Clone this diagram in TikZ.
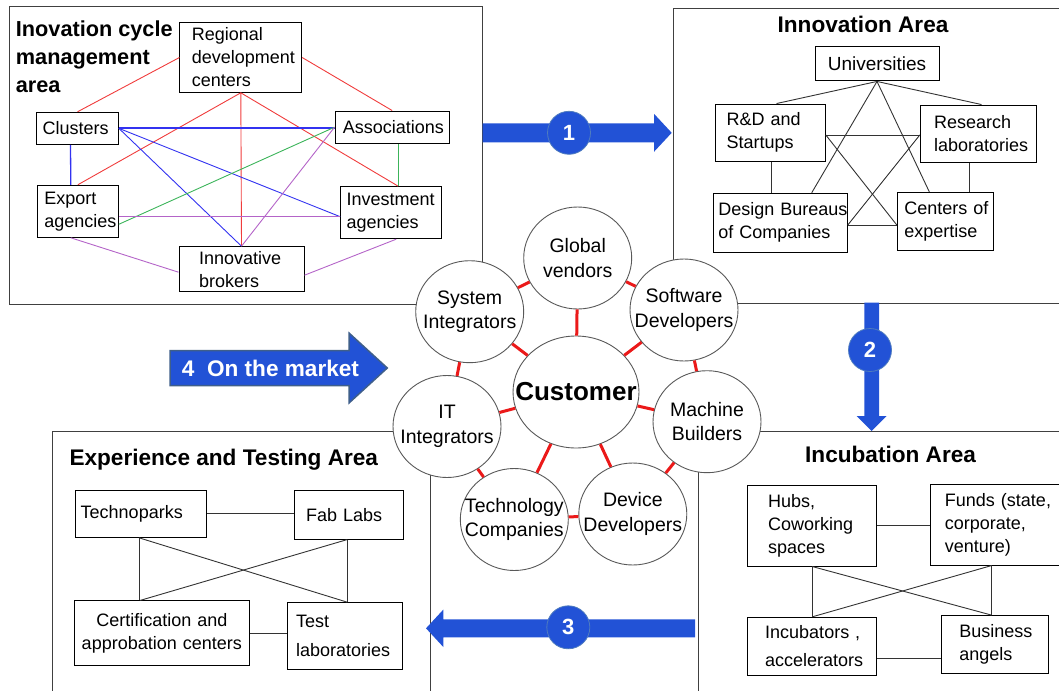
\documentclass[tikz,border=0pt]{standalone}
\usepackage{fontspec}
\setmainfont{Liberation Sans}
\usetikzlibrary{shapes.geometric,calc}
\definecolor{ablue}{RGB}{34,82,214}
\definecolor{cedge}{RGB}{80,125,190}
\definecolor{aedge}{RGB}{63,95,138}
\definecolor{redc}{RGB}{235,25,25}
\definecolor{lred}{RGB}{240,60,60}
\definecolor{lblue}{RGB}{50,50,240}
\definecolor{lgreen}{RGB}{60,180,90}
\definecolor{lpurp}{RGB}{180,100,200}
\begin{document}
\begin{tikzpicture}[x=1pt,y=-1pt,
  area/.style={draw=black!75,line width=1pt},
  box/.style={draw=black,fill=white,line width=1pt,align=left,inner ysep=2pt,
    font=\fontsize{18}{23}\selectfont},
  bub/.style={ellipse,draw=black!65,fill=white,line width=0.9pt,minimum width=108pt,
    minimum height=102pt,inner sep=-15pt,align=center,font=\fontsize{19.5}{24.5}\selectfont},
  title/.style={inner sep=0pt,font=\bfseries\fontsize{22.6}{28}\selectfont},
  numc/.style={circle,fill=ablue,draw=cedge,line width=0.8pt,minimum size=43pt,inner sep=0pt,
    text=white,font=\bfseries\fontsize{22}{22}\selectfont},
  barrow/.style={fill=ablue},
  redl/.style={draw=redc,line width=3pt},
  lr/.style={draw=lred,line width=0.9pt},
  lb/.style={draw=lblue,line width=0.9pt},
  lg/.style={draw=lgreen,line width=0.9pt},
  lp/.style={draw=lpurp,line width=0.9pt},
  ln/.style={draw=black!80,line width=0.9pt}]
\useasboundingbox (0,0) rectangle (1059,690);
\clip (0,0) rectangle (1059,690);

% areas
\draw[area] (9,7) rectangle (482,304);
\draw[area] (673,9) rectangle (1070,303);
\draw[area] (52,431) rectangle (430,700);
\draw[area] (698,431) rectangle (1070,700);

% big arrows
\fill[barrow] (482.7,123.3) -- (654,123.3) -- (654,113.8) -- (671.7,132.8) -- (654,151.8) -- (654,142.3) -- (482.7,142.3) -- cycle;
\fill[barrow] (864.4,302.7) -- (879,302.7) -- (879,416) -- (886.7,416) -- (871.7,431) -- (856.7,416) -- (864.4,416) -- cycle;
\fill[barrow] (695,619.3) -- (443.3,619.3) -- (443.3,609.6) -- (426,628.3) -- (443.3,647) -- (443.3,637.3) -- (695,637.3) -- cycle;
\filldraw[barrow,draw=aedge,line width=1.5pt] (170,350.7) -- (349,350.7) -- (349,333) -- (387.3,368) -- (349,403) -- (349,385.7) -- (170,385.7) -- cycle;
\node[anchor=base west,inner sep=0pt,text=white,font=\bfseries\fontsize{22.6}{24}\selectfont] (mk) at (181.7,376.7) {4\ \ On the market};

\node[numc] (n1) at (569,132.8) {1};
\node[numc] (n2) at (870,350) {2};
\node[numc] (n3) at (568.3,627.3) {3};

% titles
\node[title,anchor=north west,align=left,font=\bfseries\fontsize{21.7}{28}\selectfont] (t1) at (15.7,20.5) {Inovation cycle\\management\\area};
\node[title,anchor=base] (t2) at (863,33) {Innovation Area};
\node[title,anchor=base west] (t3) at (69.3,465) {Experience and Testing Area};
\node[title,anchor=base west] (t4) at (805,462.7) {Incubation Area};

% top-left boxes
\node[box,text width=97.7pt,inner xsep=12pt,minimum height=69.6pt] (reg) at (240.8,57.5) {Regional\\\mbox{development}\\centers};
\node[box,text width=69.6pt,inner xsep=6pt,minimum height=32pt] (clu) at (77.5,128.3) {Clusters};
\node[box,text width=98.9pt,inner xsep=7.7pt,minimum height=32.3pt] (ass) at (392.2,127.2) {Associations};
\node[box,text width=67pt,inner xsep=7pt,minimum height=52pt] (exp) at (77.8,211.3) {Export\\\mbox{agencies}};
\node[box,text width=89pt,inner xsep=6pt,minimum height=52pt] (inv) at (391.2,212.7) {Investment\\agencies};
\node[box,text width=85pt,inner xsep=20pt,minimum height=45pt] (bro) at (241.5,269.2) {Innovative\\brokers};

\draw[lr] (reg.west) -- (clu.north);
\draw[lr] (reg.east) -- (ass.north);
\draw[lr] (reg.south) -- (exp.north);
\draw[lr] (reg.south) -- (bro.north);
\draw[lr] (reg.south) -- ([xshift=7pt]inv.north);
\draw[lb,line width=1.8pt] (clu.east) -- (clu.east -| ass.west);
\draw[lb] (clu.east) -- ([yshift=-4pt]inv.west);
\draw[lb] (clu.east) -- (bro.north);
\draw[lb,line width=1.3pt] ([xshift=-7pt]clu.south) -- ([xshift=-7pt]exp.north);
\draw[lg] (ass.west) -- ([yshift=-13pt]exp.east);
\draw[lg,line width=1.3pt] ([xshift=6pt]ass.south) -- ([xshift=7pt]inv.north);
\draw[lp] ([yshift=-5.4pt]exp.east) -- ([yshift=-4pt]inv.west);
\draw[lp] ([xshift=-7pt]exp.south) -- ([yshift=-3pt]bro.west);
\draw[lp] (bro.north) -- (ass.west);
\draw[lp] ([xshift=5pt]inv.south) -- ([yshift=-6pt]bro.east);

% innovation area
\node[box,align=center,text width=116pt,inner xsep=4pt,minimum height=34.3pt,font=\fontsize{19}{23}\selectfont] (uni) at (877,63.8) {Universities};
\node[box,text width=87.6pt,inner xsep=11pt,minimum height=57.3pt] (rd) at (770.5,132.7) {\mbox{R\&D and}\\Startups};
\node[box,text width=89pt,inner xsep=13.7pt,minimum height=57.3pt] (rl) at (978.5,133.7) {Research\\\mbox{laboratories}};
\node[box,text width=124pt,inner xsep=5pt,minimum height=59pt] (db) at (780.3,222.8) {\mbox{Design Bureaus}\\\mbox{of Companies}};
\node[box,text width=82pt,inner xsep=7pt,minimum height=57.7pt] (ce) at (945.3,221.2) {\mbox{Centers of}\\expertise};

\draw[ln] (uni.south) -- ([xshift=6pt]rd.north);
\draw[ln] (uni.south) -- ([xshift=3pt]rl.north);
\draw[ln] (uni.south) -- ([xshift=31.4pt]db.north);
\draw[ln] (uni.south) -- ([xshift=-16pt]ce.north);
\draw[ln] ([yshift=-2.3pt]rd.east) -- ([yshift=-1.3pt]rl.west);
\draw[ln] ([yshift=-2.3pt]rd.east) -- ([yshift=-3.8pt]ce.west);
\draw[ln] ([yshift=-1.3pt]rl.west) -- ([yshift=-2.2pt]db.east);
\draw[ln] ([yshift=-2.2pt]db.east) -- ([yshift=-3.8pt]ce.west);
\draw[ln] ([xshift=1.2pt]rd.south) -- ([xshift=1.2pt]rd.south |- db.north);
\draw[ln] ([xshift=-9.2pt]rl.south) -- ([xshift=-9.2pt]rl.south |- ce.north);

% experience area
\node[box,text width=120.2pt,inner xsep=5.4pt,minimum height=47pt] (tp) at (140.8,513.8) {Technoparks};
\node[box,text width=85.6pt,inner xsep=11.7pt,minimum height=48.7pt] (fl) at (348.8,514.7) {Fab Labs};
\node[box,align=center,text width=167pt,inner xsep=4pt,minimum height=64.7pt] (cc) at (161.8,633.3) {\mbox{Certification and}\\\mbox{approbation centers}};
\node[box,text width=98pt,inner xsep=8.3pt,minimum height=66.6pt] (tl) at (345,636) {Test\\[6pt]\mbox{laboratories}};

\draw[ln] (tp.east) -- (tp.east -| fl.west);
\draw[ln] ([xshift=-1.8pt]tp.south) -- ([xshift=-1.8pt]tp.south |- cc.north);
\draw[ln] ([xshift=-1.8pt]tp.south) -- ([xshift=2.3pt]tl.north);
\draw[ln] ([xshift=-1.5pt]fl.south) -- ([xshift=-21.8pt]cc.north);
\draw[ln] ([xshift=-1.5pt]fl.south) -- ([xshift=-1.5pt]fl.south |- tl.north);
\draw[ln] (cc.east) -- (cc.east -| tl.west);

% incubation area
\node[box,text width=88.4pt,inner xsep=20.3pt,minimum height=81pt] (hub) at (812.2,525.5) {Hubs,\\\mbox{Coworking}\\spaces};
\node[box,text width=100.7pt,inner xsep=14.3pt,minimum height=81pt] (fund) at (995.3,524.5) {\mbox{Funds (state,}\\\mbox{corporate,}\\\mbox{venture)}};
\node[box,text width=94pt,inner xsep=17.5pt,minimum height=57.7pt] (incb) at (812.2,646.2) {\mbox{Incubators ,}\\[5pt]\mbox{accelerators}};
\node[box,text width=71.4pt,inner xsep=17.6pt,minimum height=58.3pt] (ba) at (995,644.8) {\mbox{Business}\\angels};

\draw[ln] (hub.east) -- (hub.east -| fund.west);
\draw[ln] (hub.south) -- (hub.south |- incb.north);
\draw[ln] (hub.south) -- ([xshift=-3.3pt]ba.north);
\draw[ln] ([xshift=-3.6pt]fund.south) -- ([xshift=-3.6pt]fund.south |- ba.north);
\draw[ln] ([xshift=-3.6pt]fund.south) -- (incb.north);
\draw[ln] ([yshift=-12pt]incb.east) -- ([yshift=-12pt]incb.east -| ba.west);

% customer ring
\node[bub] (gv) at (577.7,258) {Global\\vendors};
\node[bub] (si) at (469.7,311.7) {System\\Integrators};
\node[bub] (sd) at (684,310) {Software\\Developers};
\node[bub] (it) at (447,426.5) {IT\\Integrators};
\node[bub] (mb) at (707,421.7) {Machine\\Builders};
\node[bub] (tc) at (514.3,519.5) {Technology\\Companies};
\node[bub] (dd) at (632.8,514) {Device\\Developers};
\node[bub,minimum width=126pt,minimum height=112pt,inner sep=-25pt,font=\bfseries\fontsize{26}{30}\selectfont] (cu) at (576,392) {Customer};

\foreach \a/\b in {si/gv,gv/sd,sd/mb,mb/dd,dd/tc,tc/it,it/si}
  \draw[redl] (\a) -- (\b);
\foreach \b in {gv,sd,mb,dd,tc,it,si}
  \draw[redl] (cu) -- (\b);
\end{tikzpicture}
\end{document}
